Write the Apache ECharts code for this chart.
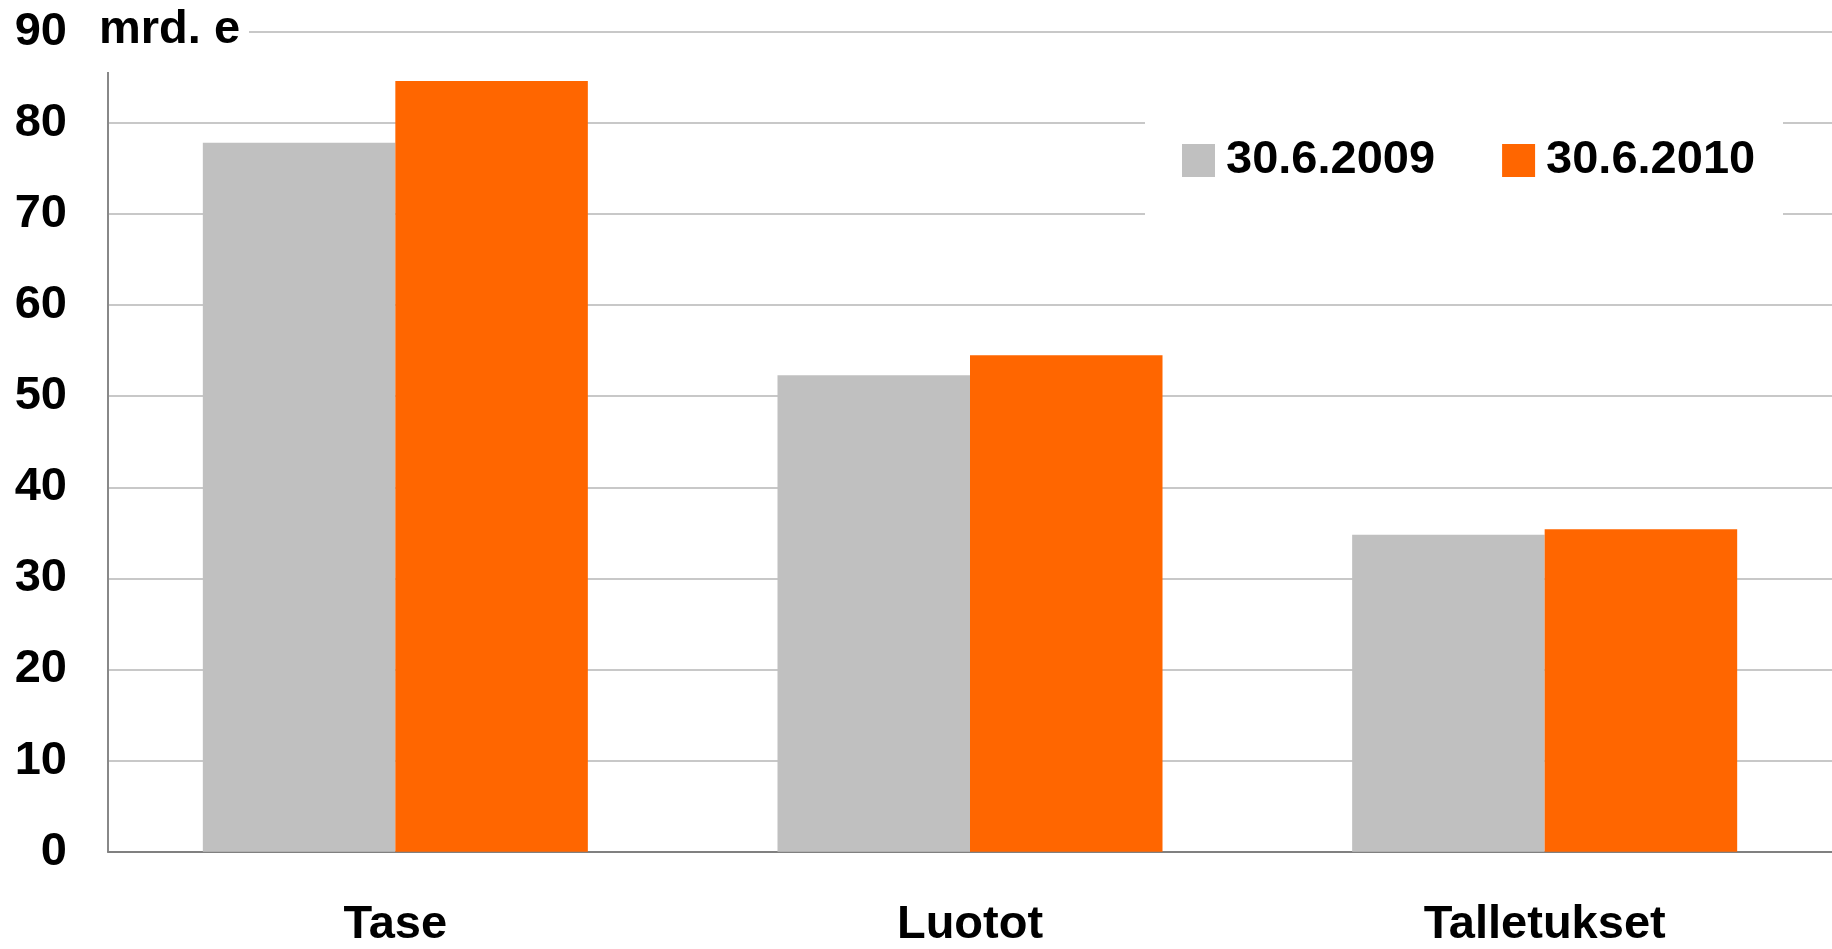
<!DOCTYPE html>
<html>
<head>
<meta charset="utf-8">
<script src="https://cdn.jsdelivr.net/npm/echarts@6/dist/echarts.min.js"></script>
<style>
html,body{margin:0;padding:0;background:#fff;}
#chart{width:1832px;height:949px;}
</style>
</head>
<body>
<div id="chart"></div>
<script>
var categories = ['Tase', 'Luotot', 'Talletukset'];
var seriesNames = ['30.6.2009', '30.6.2010'];
var values2009 = [77.8, 52.3, 34.8];
var values2010 = [84.6, 54.5, 35.4];
var yTicks = [0, 10, 20, 30, 40, 50, 60, 70, 80, 90];
var unitLabel = 'mrd. e';

var FONT = '"Liberation Sans", Arial, sans-serif';
var chart = echarts.init(document.getElementById('chart'), null, {renderer: 'canvas'});
chart.setOption({
  animation: false,
  backgroundColor: '#ffffff',
  grid: {left: 108, right: 0, top: 31.7, bottom: 97.3, containLabel: false},
  legend: {
    data: seriesNames,
    left: 1182, top: 137, padding: 0,
    itemWidth: 33, itemHeight: 33, itemGap: 67,
    icon: 'rect',
    textStyle: {fontFamily: FONT, fontWeight: 'bold', fontSize: 47, color: '#000', padding: [0,0,0,6]},
    z: 20
  },
  xAxis: {
    type: 'category',
    data: categories,
    axisTick: {show: false},
    axisLine: {show: true, lineStyle: {color: '#808080', width: 2}},
    axisLabel: {fontFamily: FONT, fontWeight: 'bold', fontSize: 47, color: '#000', margin: 50},
    splitLine: {show: false}
  },
  yAxis: {
    type: 'value',
    min: yTicks[0], max: yTicks[yTicks.length - 1], interval: 10,
    axisLine: {show: true, lineStyle: {color: '#888888', width: 2}},
    axisTick: {show: false},
    axisLabel: {fontFamily: FONT, fontWeight: 'bold', fontSize: 47, color: '#000', margin: 41},
    splitLine: {show: true, lineStyle: {color: '#c8c8c8', width: 2}}
  },
  graphic: [
    {type: 'rect', shape: {x: 90, y: 0, width: 159, height: 72}, style: {fill: '#ffffff'}, z: 50},
    {type: 'text', x: 99, y: 7, style: {text: unitLabel, font: 'bold 47px ' + FONT, fill: '#000', verticalAlign: 'top'}, z: 51},
    {type: 'rect', shape: {x: 1145, y: 95, width: 638, height: 160}, style: {fill: '#ffffff'}, z: 5}
  ],
  series: [
    {name: seriesNames[0], type: 'bar', data: values2009, barGap: '0%', barCategoryGap: '33%', itemStyle: {color: '#c0c0c0'}, z: 3},
    {name: seriesNames[1], type: 'bar', data: values2010, barGap: '0%', barCategoryGap: '33%', itemStyle: {color: '#ff6600'}, z: 3}
  ]
});
</script>
</body>
</html>
